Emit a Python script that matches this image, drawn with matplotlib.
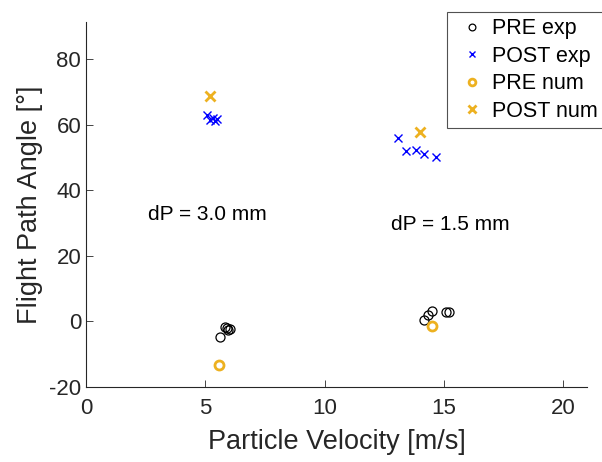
import matplotlib
matplotlib.use("Agg")
import matplotlib.pyplot as plt

plt.rcParams['font.family'] = ['Liberation Sans', 'DejaVu Sans']
plt.rcParams['axes.unicode_minus'] = False

# Experimental data (particle velocity in m/s, flight path angle in degrees)
pre_exp_v = [5.63, 5.84, 5.92, 5.97, 6.05, 14.16, 14.33, 14.50, 15.08, 15.21]
pre_exp_a = [-4.8, -1.7, -2.0, -2.6, -2.3, 0.4, 2.0, 3.2, 2.9, 2.9]
post_exp_v = [5.08, 5.21, 5.34, 5.42, 5.50, 13.07, 13.40, 13.82, 14.16, 14.66]
post_exp_a = [62.9, 61.4, 62.0, 61.1, 61.7, 55.9, 52.0, 52.3, 51.0, 50.1]

# Numerical results
pre_num_v = [5.59, 14.50]
pre_num_a = [-13.3, -1.4]
post_num_v = [5.21, 13.99]
post_num_a = [68.7, 57.7]

orange = '#EDB120'
ink = '#262626'

fig = plt.figure(figsize=(6.02, 4.62), dpi=100)
ax = fig.add_axes([86 / 602, 1 - 387 / 462, (587 - 86) / 602, (387 - 22) / 462])

ax.plot(pre_exp_v, pre_exp_a, 'o', mfc='none', mec='black', ms=6.5, mew=0.9, label='PRE exp')
ax.plot(post_exp_v, post_exp_a, 'x', color='blue', ms=6, mew=1.0, label='POST exp')
ax.plot(pre_num_v, pre_num_a, 'o', mfc='none', mec=orange, ms=6.5, mew=2.0, label='PRE num')
ax.plot(post_num_v, post_num_a, 'x', color=orange, ms=7, mew=2.0, label='POST num')

ax.text(2.6, 32.7, 'dP = 3.0 mm', fontsize=15, va='center', ha='left')
ax.text(12.77, 29.4, 'dP = 1.5 mm', fontsize=15, va='center', ha='left')

ax.set_xlim(0, 21)
ax.set_ylim(-20, 91.3)
ax.set_xticks([0, 5, 10, 15, 20])
ax.set_yticks([-20, 0, 20, 40, 60, 80])
ax.tick_params(labelsize=16, direction='in', length=5, width=0.6, colors=ink)
ax.tick_params(axis='x', pad=8)
for s in ['top', 'right']:
    ax.spines[s].set_visible(False)
for s in ['left', 'bottom']:
    ax.spines[s].set_linewidth(0.8)
    ax.spines[s].set_color(ink)

ax.set_xlabel('Particle Velocity [m/s]', fontsize=19.5, color=ink, labelpad=7)
ax.set_ylabel('Flight Path Angle [°]', fontsize=19.5, color=ink, labelpad=4)

leg = fig.legend(loc='upper left', bbox_to_anchor=(447 / 602, 1 - 12 / 462),
                 fontsize=15.5, frameon=True, fancybox=False, edgecolor=ink,
                 handlelength=1.7, handletextpad=0.1, borderpad=0.3, labelspacing=0.3,
                 borderaxespad=0, markerscale=0.75)
leg.get_frame().set_linewidth(0.8)

fig.savefig('out.png', dpi=100)
